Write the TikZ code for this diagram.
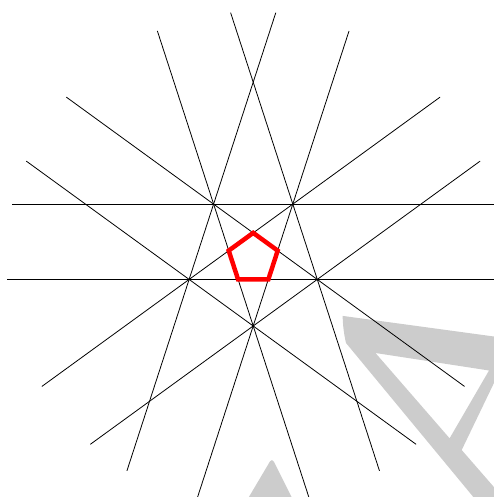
\documentclass[tikz,border=0pt]{standalone}
\usetikzlibrary{calc}
\definecolor{wm}{RGB}{204,204,204}
\tikzset{
  starline/.style={black, line width=0.8pt},
  redpent/.style={red, line width=4.5pt, line join=miter},
  wmfill/.style={fill=wm, draw=none},
}
\begin{document}
\begin{tikzpicture}[x=1pt,y=-1pt]
\useasboundingbox (0,0) rectangle (494,497);
\clip (0,0) rectangle (494,497);
% watermark shapes
\fill[wmfill, even odd rule]
  (342.7,315.9) -- (530,341.4) -- (530,376.2) -- (499.4,371.7) -- (461.7,450)
  -- (530,528.5) -- (500.6,530) -- (346,343)
  .. controls (343.6,333) and (342.6,322) .. (342.7,315.9) -- cycle
  (375.5,353) -- (489,370.5) -- (449.6,438.3) -- cycle;
\fill[wmfill, rounded corners=4pt] (240,512) -- (272,458) -- (299,512) -- cycle;
% star of lines
\begin{scope}[shift={(253.2,258.6)}, yscale=-1]
  \foreach \p [count=\i] in {90,162,234,306,18} {
    \coordinate (s\i a) at (\p+77.25:247);
    \coordinate (s\i b) at (\p-77.25:247);
    \draw[starline] (s\i a) -- (s\i b);
  }
  \foreach \p [count=\i] in {270,342,54,126,198} {
    \coordinate (d\i a) at (\p+85.17:247);
    \coordinate (d\i b) at (\p-85.17:247);
    \draw[starline] (d\i a) -- (d\i b);
  }
  \foreach \i in {0,...,4} {
    \coordinate (v\i) at (90+72*\i:25.75);
  }
  \draw[redpent] (v0) -- (v1) -- (v2) -- (v3) -- (v4) -- cycle;
\end{scope}
\end{tikzpicture}
\end{document}
